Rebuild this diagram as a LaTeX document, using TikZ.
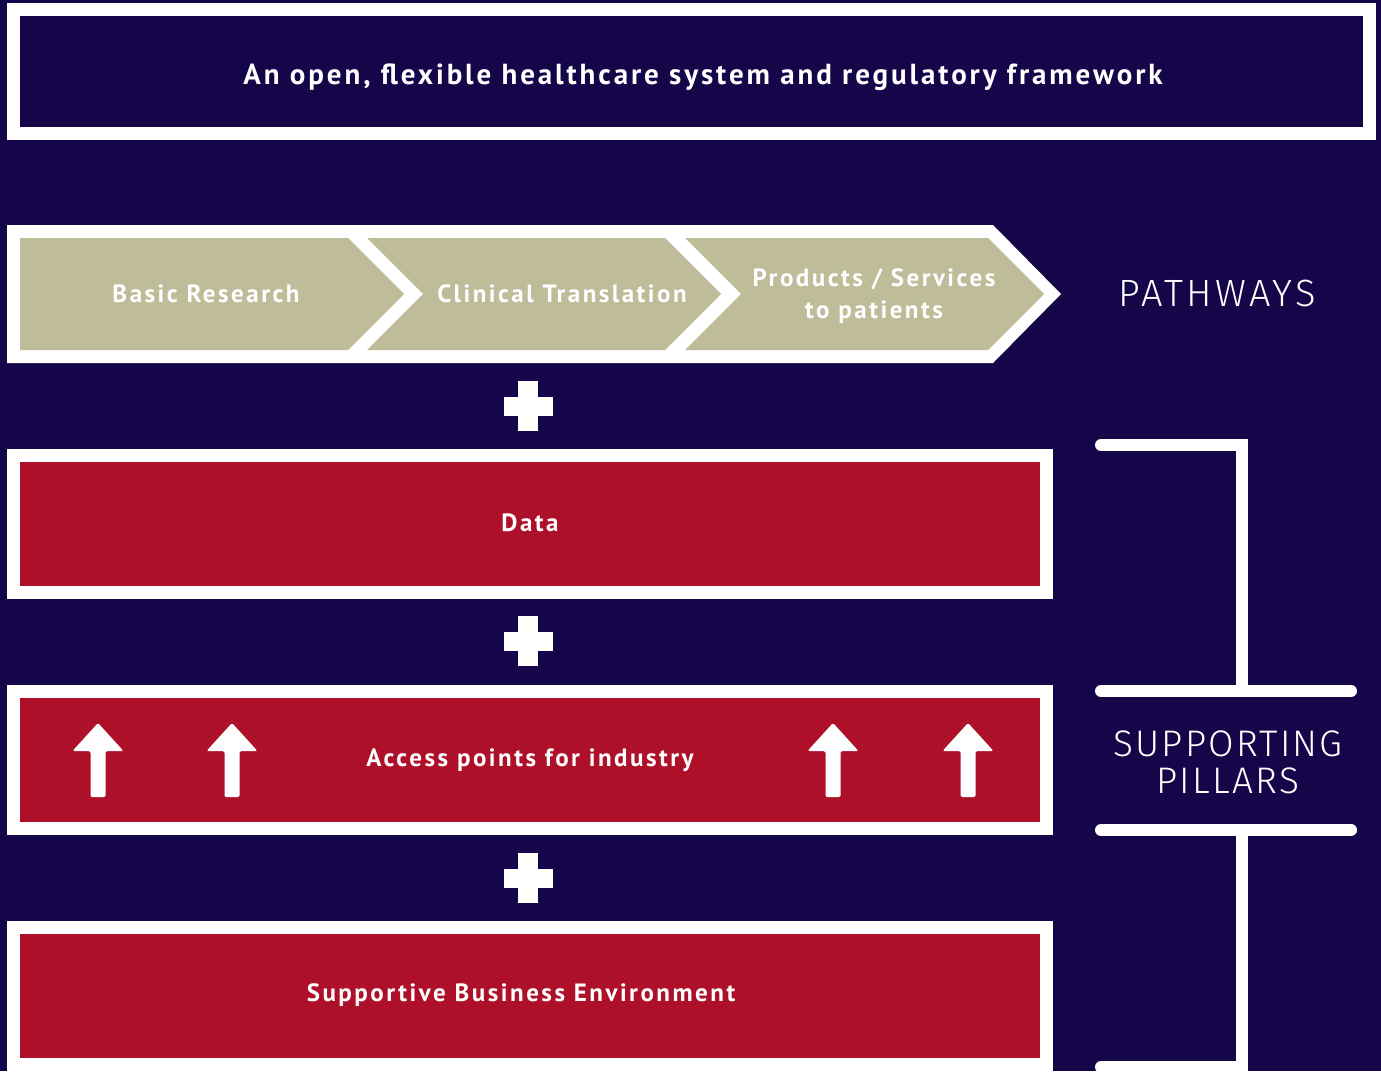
\documentclass[tikz,border=0pt]{standalone}
\usepackage{fontspec}
\usetikzlibrary{calc}
\setmainfont{PT Sans}
\newfontfamily\boldlabel{PT Sans}[UprightFont=* Bold, LetterSpace=10]
\newfontfamily\lightlabel{Fira Sans Light}[LetterSpace=6]
\newfontfamily\widelight{Fira Sans Light}[LetterSpace=9]
\definecolor{navy}{RGB}{20,6,72}
\definecolor{pillarred}{RGB}{175,16,41}
\definecolor{khaki}{RGB}{191,188,154}
\tikzset{
  framebox/.style={draw=white, line width=13pt, inner sep=0pt, rectangle},
  pillar/.style={framebox, fill=pillarred, minimum width=1033pt, minimum height=137pt},
  boxtext/.style={text=white, font=\boldlabel\fontsize{25}{32}\selectfont, align=center, inner sep=0pt},
  sidetext/.style={text=white, font=\lightlabel\fontsize{37}{37}\selectfont, align=center, inner sep=0pt},
  bracket/.style={draw=white, line width=12pt, line cap=round},
  chevron/.style={fill=khaki},
  plussign/.style={fill=white},
  uparrow/.style={fill=white, rounded corners=1.5pt}
}
\begin{document}
\begin{tikzpicture}[x=1pt, y=-1pt]
  % background
  \fill[navy] (0,0) rectangle (1381,1071);
  \useasboundingbox (0,0) rectangle (1381,1071);

  % framework banner
  \node[framebox, fill=navy, minimum width=1356pt, minimum height=124pt] (frame) at (691.5,71.5) {};
  \node[boxtext, font=\boldlabel\fontsize{29}{34}\selectfont] (frametxt) at (703,77) {An open, flexible healthcare system and regulatory framework};

  % pathways: white outline and three chevrons
  \fill[white] (7,225) -- (993,225) -- (1061,294) -- (993,363) -- (7,363) -- cycle;
  \fill[chevron] (20,238) -- (348,238) -- (404,294) -- (348,350) -- (20,350) -- cycle;
  \fill[chevron] (367,238) -- (665,238) -- (721,294) -- (665,350) -- (367,350) -- (423,294) -- cycle;
  \fill[chevron] (685,238) -- (988,238) -- (1044,294) -- (988,350) -- (685,350) -- (741,294) -- cycle;
  \node[boxtext] (basic) at (206,294) {Basic Research};
  \node[boxtext] (clinical) at (562,294) {Clinical Translation};
  \node[boxtext] (products) at (874,296) {Products / Services\\to patients};
  \node[sidetext, font=\widelight\fontsize{38}{38}\selectfont] (pathways) at (1217,293) {PATHWAYS};

  % plus signs between rows
  \foreach \py/\nm in {406/plusA, 641/plusB, 878/plusC} {
    \coordinate (\nm) at (528,\py);
    \fill[plussign] ($(\nm)+(-24.5,-9.5)$) rectangle ($(\nm)+(24.5,9.5)$);
    \fill[plussign] ($(\nm)+(-10,-25)$) rectangle ($(\nm)+(10,25)$);
  }

  % supporting pillars
  \node[pillar] (data) at (530,524) {};
  \node[boxtext] (datatxt) at (530,523) {Data};
  \node[pillar] (access) at (530,759.5) {};
  \node[boxtext] (accesstxt) at (530,760) {Access points for industry};
  \node[pillar] (business) at (530,995.5) {};
  \node[boxtext] (businesstxt) at (521,995) {Supportive Business Environment};

  % access arrows
  \foreach \ax in {98,232,833,968} {
    \fill[uparrow] (\ax-7.5,797) -- (\ax-7.5,751) -- (\ax-25.5,751) -- (\ax,723)
      -- (\ax+25.5,751) -- (\ax+7.5,751) -- (\ax+7.5,797) -- cycle;
  }

  % bracket grouping the pillars
  \coordinate (brA) at (1101,445);
  \coordinate (brB) at (1242,691);
  \coordinate (brC) at (1101,691);
  \coordinate (brD) at (1351,691);
  \coordinate (brE) at (1101,830);
  \coordinate (brF) at (1351,830);
  \coordinate (brG) at (1242,830);
  \coordinate (brH) at (1101,1067);
  \draw[bracket, line join=miter] (brA) -| (brB);
  \draw[bracket] (brC) -- (brD);
  \draw[bracket] (brE) -- (brF);
  \draw[bracket, line join=miter] (brG) |- (brH);
  \node[sidetext] (pillars) at (1228,762) {SUPPORTING\\PILLARS};
\end{tikzpicture}
\end{document}
